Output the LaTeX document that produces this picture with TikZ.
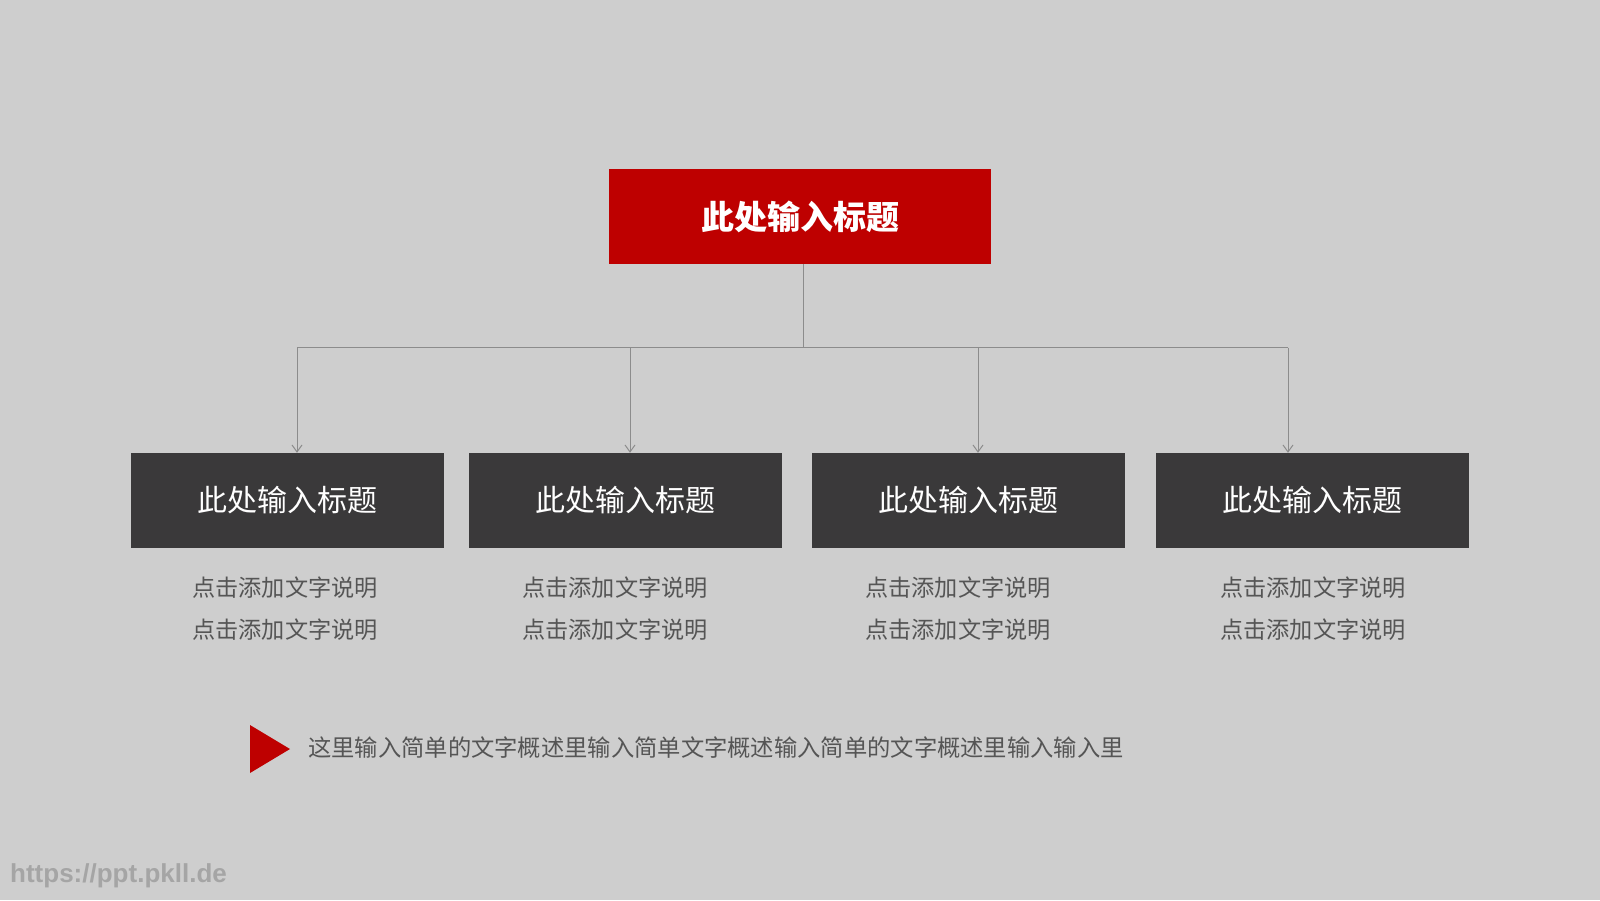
\documentclass[tikz,border=0pt]{standalone}
\usepackage{fontspec}
\newfontfamily\cjk{Noto Sans CJK SC}
\newfontfamily\wmfont{Liberation Sans}
\usetikzlibrary{arrows.meta}
\definecolor{bg}{RGB}{206,206,206}
\definecolor{redbox}{RGB}{190,0,0}
\definecolor{darkbox}{RGB}{58,57,58}
\definecolor{desc}{RGB}{85,85,85}
\definecolor{conn}{RGB}{140,140,140}
\definecolor{wm}{RGB}{165,165,165}
\tikzset{
  topbox/.style={fill=redbox, text=white, minimum width=382pt, minimum height=95pt, inner sep=0pt, font=\cjk\bfseries\fontsize{33}{36}\selectfont},
  subbox/.style={fill=darkbox, text=white, minimum width=313pt, minimum height=95pt, inner sep=0pt, font=\cjk\fontsize{30}{34}\selectfont},
  desctext/.style={text=desc, inner sep=0pt, font=\cjk\fontsize{23.2}{42}\selectfont, align=center},
  connline/.style={draw=conn, line width=1pt},
  arr/.style={connline, -{Straight Barb[length=7pt,width=10pt]}},
}
\begin{document}
\begin{tikzpicture}[x=1pt,y=-1pt]
\fill[bg] (0,0) rectangle (1600,900);
\useasboundingbox (0,0) rectangle (1600,900);

\node[topbox] (top) at (800,216.5) {此处输入标题};

\node[subbox] (b1) at (287.5,500.5) {此处输入标题};
\node[subbox] (b2) at (625,500.5) {此处输入标题};
\node[subbox] (b3) at (968.5,500.5) {此处输入标题};
\node[subbox] (b4) at (1312.5,500.5) {此处输入标题};

\node[desctext] (d1) at (285,609) {点击添加文字说明\\点击添加文字说明};
\node[desctext] (d2) at (615,609) {点击添加文字说明\\点击添加文字说明};
\node[desctext] (d3) at (958,609) {点击添加文字说明\\点击添加文字说明};
\node[desctext] (d4) at (1313,609) {点击添加文字说明\\点击添加文字说明};

\coordinate (hub) at (803,347.5);
\coordinate (j1) at (297,347.5);
\coordinate (j2) at (630,347.5);
\coordinate (j3) at (978,347.5);
\coordinate (j4) at (1288,347.5);
\draw[connline] (top.south -| hub) -- (hub);
\draw[connline] (j1) -- (j4);
\draw[arr] (j1) -- (j1 |- b1.north);
\draw[arr] (j2) -- (j2 |- b2.north);
\draw[arr] (j3) -- (j3 |- b3.north);
\draw[arr] (j4) -- (j4 |- b4.north);

\fill[redbox] (250,725) -- (290,749) -- (250,773) -- cycle;
\node[anchor=west, text=desc, inner sep=0pt, font=\cjk\fontsize{23.3}{26}\selectfont] (summary) at (308,748) {这里输入简单的文字概述里输入简单文字概述输入简单的文字概述里输入输入里};

\node[anchor=west, text=wm, inner sep=0pt, font=\wmfont\bfseries\fontsize{26}{28}\selectfont] (url) at (10,876) {https://ppt.pkll.de};
\end{tikzpicture}
\end{document}
